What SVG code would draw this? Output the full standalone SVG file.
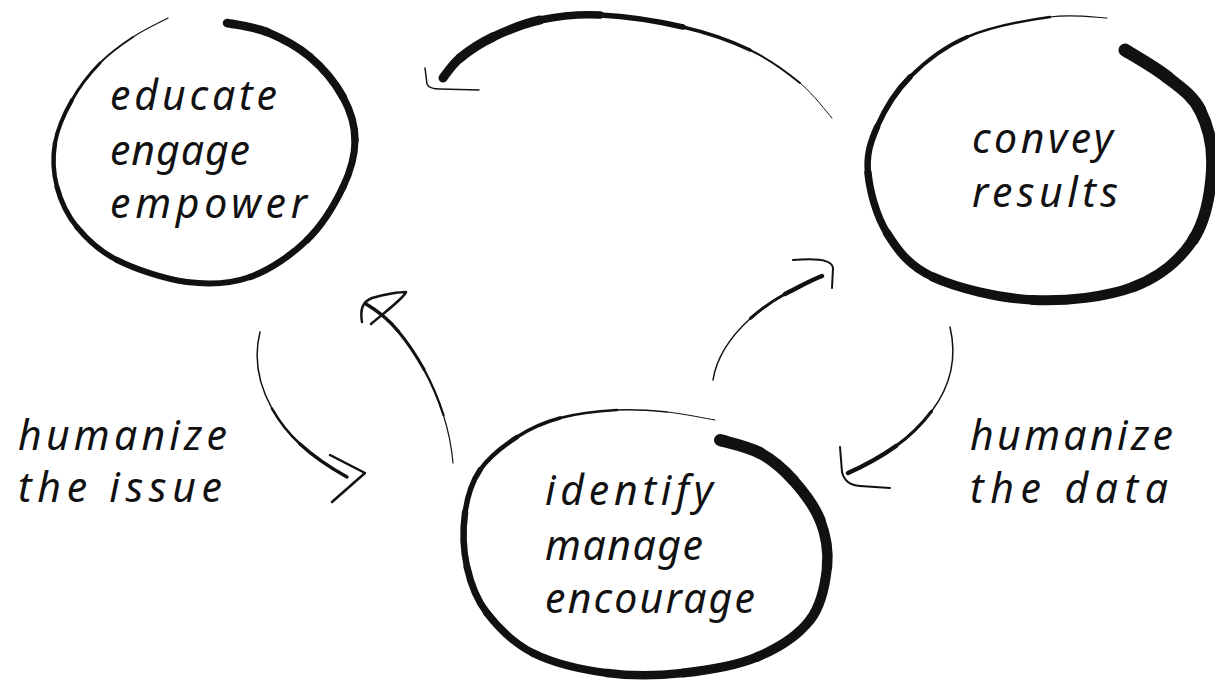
<svg xmlns="http://www.w3.org/2000/svg" width="1215" height="687" viewBox="0 0 1215 687">
<style>
.b{fill:none;stroke:#111;stroke-linecap:round;stroke-linejoin:round}
.t{font-family:"Noto Sans","DejaVu Sans",sans-serif;font-style:italic;font-size:41px;fill:#111}
</style>
<rect width="1215" height="687" fill="#fff"/>
<g id="node-educate">
<g class="b">
<path stroke-width="1.2" d="M168,18 C162.2,21.2 144.3,29.5 133,37"/>
<path stroke-width="2" d="M133,37 C121.7,44.5 110.2,52.5 100,63"/>
<path stroke-width="3" d="M100,63 C89.8,73.5 79.5,86.7 72,100"/>
<path stroke-width="4" d="M72,100 C64.5,113.3 57.5,128.5 55,143"/>
<path stroke-width="4.5" d="M55,143 C52.5,157.5 53.3,173 57,187"/>
<path stroke-width="5" d="M57,187 C60.7,201 67,214.8 77,227"/>
<path stroke-width="5.5" d="M77,227 C87,239.2 98.7,250.8 117,260"/>
<path stroke-width="6" d="M117,260 C135.3,269.2 164.8,279.2 187,282"/>
<path stroke-width="6" d="M187,282 C209.2,284.8 230,284 250,277"/>
<path stroke-width="6.5" d="M250,277 C270,270 291.5,255 307,240"/>
<path stroke-width="7" d="M307,240 C322.5,225 335,203.7 343,187"/>
<path stroke-width="7" d="M343,187 C351,170.3 355,155 355,140"/>
<path stroke-width="7.5" d="M355,140 C355,125 350.5,110.8 343,97"/>
<path stroke-width="8" d="M343,97 C335.5,83.2 322.7,67.8 310,57"/>
<path stroke-width="8" d="M310,57 C297.3,46.2 280.8,37.7 267,32"/>
<path stroke-width="8.5" d="M267,32 C253.2,26.3 233.7,24.5 227,23"/>
</g>
<text class="t" x="110" y="110" textLength="167">educate</text>
<text class="t" x="110" y="165" textLength="140">engage</text>
<text class="t" x="110" y="218" textLength="197">empower</text>
</g>
<g id="node-convey">
<g class="b">
<path stroke-width="1.2" d="M1107,18 C1097.5,17.8 1073.3,13.8 1050,17"/>
<path stroke-width="2.5" d="M1050,17 C1026.7,20.2 990.3,27 967,37"/>
<path stroke-width="4" d="M967,37 C943.7,47 925,62 910,77"/>
<path stroke-width="5.5" d="M910,77 C895,92 884,111 877,127"/>
<path stroke-width="6.5" d="M877,127 C870,143 866.3,155.3 868,173"/>
<path stroke-width="7.5" d="M868,173 C869.7,190.7 876.2,215.7 887,233"/>
<path stroke-width="8.5" d="M887,233 C897.8,250.3 908.7,265.8 933,277"/>
<path stroke-width="9.5" d="M933,277 C957.3,288.2 999.7,298.3 1033,300"/>
<path stroke-width="10" d="M1033,300 C1066.3,301.7 1106.3,297 1133,287"/>
<path stroke-width="10.5" d="M1133,287 C1159.7,277 1179.8,260 1193,240"/>
<path stroke-width="11.5" d="M1193,240 C1206.2,220 1210.8,188.7 1212,167"/>
<path stroke-width="12" d="M1212,167 C1213.2,145.3 1207.5,125 1200,110"/>
<path stroke-width="12.5" d="M1200,110 C1192.5,95 1179.5,87 1167,77"/>
<path stroke-width="13" d="M1167,77 C1154.5,67 1132,54.5 1125,50"/>
</g>
<text class="t" x="972" y="153" textLength="141">convey</text>
<text class="t" x="972" y="207" textLength="146">results</text>
</g>
<g id="node-identify">
<g class="b">
<path stroke-width="1" d="M715,420 C707,418.7 683.3,413.7 667,412"/>
<path stroke-width="1.5" d="M667,412 C650.7,410.3 634.8,409 617,410"/>
<path stroke-width="2.5" d="M617,410 C599.2,411 576.7,413.5 560,418"/>
<path stroke-width="3.5" d="M560,418 C543.3,422.5 530.3,428.3 517,437"/>
<path stroke-width="4.5" d="M517,437 C503.7,445.7 488.7,457.3 480,470"/>
<path stroke-width="5.5" d="M480,470 C471.3,482.7 467.2,496.8 465,513"/>
<path stroke-width="6.5" d="M465,513 C462.8,529.2 463.3,550.3 467,567"/>
<path stroke-width="7" d="M467,567 C470.7,583.7 476,598.7 487,613"/>
<path stroke-width="7.5" d="M487,613 C498,627.3 513,643 533,653"/>
<path stroke-width="8" d="M533,653 C553,663 582,669.7 607,673"/>
<path stroke-width="8.5" d="M607,673 C632,676.3 658,675.7 683,673"/>
<path stroke-width="9" d="M683,673 C708,670.3 735.8,665.8 757,657"/>
<path stroke-width="9.5" d="M757,657 C778.2,648.2 798.3,635 810,620"/>
<path stroke-width="10" d="M810,620 C821.7,605 825.3,583.7 827,567"/>
<path stroke-width="10.5" d="M827,567 C828.7,550.3 825.7,534.5 820,520"/>
<path stroke-width="11" d="M820,520 C814.3,505.5 803,491.2 793,480"/>
<path stroke-width="11.5" d="M793,480 C783,468.8 772.2,459.7 760,453"/>
<path stroke-width="12" d="M760,453 C747.8,446.3 726.7,442.2 720,440"/>
</g>
<text class="t" x="545" y="505" textLength="168">identify</text>
<text class="t" x="545" y="560" textLength="158">manage</text>
<text class="t" x="545" y="613" textLength="210">encourage</text>
</g>
<g id="connectors" class="b">
<g id="edge-convey-educate">
<path stroke-width="1" d="M832,118 C826.7,112.2 813.7,94.3 800,83"/>
<path stroke-width="2" d="M800,83 C786.3,71.7 769.5,59.3 750,50"/>
<path stroke-width="3.5" d="M750,50 C730.5,40.7 708,32.8 683,27"/>
<path stroke-width="5.5" d="M683,27 C658,21.2 623.8,16.2 600,15"/>
<path stroke-width="7.5" d="M600,15 C576.2,13.8 557.8,16.3 540,20"/>
<path stroke-width="9" d="M540,20 C522.2,23.7 506.3,30.7 493,37"/>
<path stroke-width="9.5" d="M493,37 C479.7,43.3 468.3,51.2 460,58"/>
<path stroke-width="9" d="M460,58 C451.7,64.8 445.8,74.7 443,78"/>
<path stroke-width="1.5" d="M425,68 L427,84 Q429,89 440,89 L479,90"/>
</g>
<g id="edge-identify-educate">
<path stroke-width="1.2" d="M453,463 C451.75,447.25 448.4,431.1 443.5,415.2"/>
<path stroke-width="2.2" d="M443.5,415.2 C438.5,399.4 431.9,383.9 424.1,369.6"/>
<path stroke-width="3" d="M424.1,369.6 C416,355 408,343 398,331"/>
<path stroke-width="3.5" d="M398,331 C389,320 378,311 366,304"/>
<path stroke-width="2.5" d="M362,322 C360,310 362,302 372,298 C385,294 400,292 406,292 C404,298 385,312 371,324"/>
</g>
<g id="edge-educate-identify">
<path stroke-width="1.5" d="M260,332 C254,356 257.75,383 272,408.6"/>
<path stroke-width="2.5" d="M272,408.6 C279,421 288,433 300,444"/>
<path stroke-width="3.5" d="M300,444 C313,456 329,467 347,477"/>
<path stroke-width="2.5" d="M330,455 L365,473 L332,502"/>
</g>
<g id="edge-identify-convey">
<path stroke-width="1.5" d="M713,380 C716.5,357.5 730.75,336.25 750.6,318.25"/>
<path stroke-width="3" d="M750.6,318.25 C760,310 772,301 785,294"/>
<path stroke-width="4.5" d="M785,294 C797,288 809,281 822,276"/>
<path stroke-width="2" d="M793,260 C815,258 832,259 833,268 L832,288"/>
</g>
<g id="edge-convey-identify">
<path stroke-width="1.5" d="M950,327 C957.5,358.5 950,386.75 931.6,411.25"/>
<path stroke-width="3" d="M931.6,411.25 C922,424 910,436 896,446"/>
<path stroke-width="4.5" d="M896,446 C882,456 866,465 848,473"/>
<path stroke-width="2" d="M840,447 L842,472 Q845,485 860,486 L890,488"/>
</g>
</g>
<g id="label-issue">
<text class="t" x="18" y="450" textLength="209">humanize</text>
<text class="t" x="18" y="502" textLength="204">the issue</text>
</g>
<g id="label-data">
<text class="t" x="970" y="450" textLength="203">humanize</text>
<text class="t" x="970" y="503" textLength="198">the data</text>
</g>
</svg>
